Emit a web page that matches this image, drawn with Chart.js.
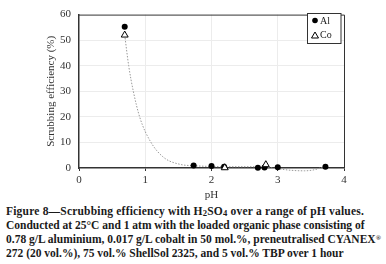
<!DOCTYPE html>
<html><head><meta charset="utf-8">
<script src="https://cdn.jsdelivr.net/npm/chart.js@4"></script>
<style>
html,body{margin:0;padding:0;background:#fff;width:386px;height:264px;overflow:hidden}
#wrap{position:absolute;left:0;top:0;width:386px;height:202px}
#cap{position:absolute;left:6px;top:205px;width:385px;font-family:"Liberation Serif",serif;font-weight:bold;font-size:11.5px;line-height:13.9px;color:#1a1a1a;white-space:nowrap}
#l1{letter-spacing:0.2px}
sub{font-size:0.75em;vertical-align:-0.15em;line-height:0}
sup{font-size:0.6em;vertical-align:0.5em;line-height:0}
</style></head><body>
<div id="wrap"><canvas id="c" width="386" height="202"></canvas></div>
<div id="cap"><span id="l1">Figure 8—Scrubbing efficiency with H<sub>2</sub>SO<sub>4</sub> over a range of pH values.</span><br>Conducted at 25°C and 1 atm with the loaded organic phase consisting of<br>0.78 g/L aluminium, 0.017 g/L cobalt in 50 mol.%, preneutralised CYANEX<sup>®</sup><br>272 (20 vol.%), 75 vol.% ShellSol 2325, and 5 vol.% TBP over 1 hour</div>
<script>
const alPH = [0.69, 1.73, 2.0, 2.19, 2.7, 2.8, 3.0, 3.72];
const alEff = [55.2, 1.0, 0.8, 0.5, 0.1, 0.2, 0.3, 0.5];
const coPH = [0.69, 2.2, 2.82];
const coEff = [52, 0.1, 1.3];
const trendPH = [0.69, 0.75, 0.82, 0.92, 1.08, 1.28, 1.53, 1.73, 2.0, 2.3, 2.6, 2.8, 3.0, 3.2, 3.4, 3.55, 3.7];
const trendEff = [52, 40, 30, 19.6, 10.3, 4.1, 1.4, 0.9, 0.6, 0.5, 0.5, 0.3, -0.3, -0.9, -1.1, -0.7, 0.5];
const xTicks = [0, 1, 2, 3, 4];
const yTicks = [0, 10, 20, 30, 40, 50, 60];

const pts = (xs, ys) => xs.map((x, i) => ({x: x, y: ys[i]}));
const serif = '"Liberation Serif", "Times New Roman", serif';

const legendPlugin = {
  id: 'boxLegend',
  afterDraw(chart) {
    const ctx = chart.ctx;
    const x0 = 307.5, y0 = 13.5, w = 33.5, h = 30;
    ctx.save();
    ctx.fillStyle = '#fff';
    ctx.fillRect(x0, y0, w, h);
    ctx.strokeStyle = '#333';
    ctx.lineWidth = 1;
    ctx.strokeRect(x0, y0, w, h);
    ctx.fillStyle = '#000';
    ctx.beginPath(); ctx.arc(x0 + 7.5, y0 + 7, 2.8, 0, Math.PI * 2); ctx.fill();
    ctx.beginPath();
    ctx.moveTo(x0 + 7.5, y0 + 18.5); ctx.lineTo(x0 + 11, y0 + 24.5); ctx.lineTo(x0 + 4, y0 + 24.5); ctx.closePath();
    ctx.strokeStyle = '#000'; ctx.stroke();
    ctx.font = '10px ' + serif;
    ctx.fillStyle = '#222';
    ctx.textBaseline = 'middle';
    ctx.fillText('Al', x0 + 12.5, y0 + 7.5);
    ctx.fillText('Co', x0 + 12.5, y0 + 22);
    ctx.restore();
  }
};

const frame = {
  id: 'frame',
  afterDatasetsDraw(chart) {
    const a = chart.chartArea, ctx = chart.ctx;
    ctx.save();
    ctx.strokeStyle = '#333'; ctx.lineWidth = 1;
    ctx.beginPath();
    ctx.moveTo(a.left, a.top + 0.5); ctx.lineTo(a.right + 0.5, a.top + 0.5); ctx.lineTo(a.right + 0.5, a.bottom);
    ctx.stroke();
    ctx.restore();
  }
};

new Chart(document.getElementById('c'), {
  type: 'scatter',
  data: {
    datasets: [
      {label: 'Trend', data: pts(trendPH, trendEff), showLine: true, pointRadius: 0, borderColor: '#9a9a9a', borderWidth: 1, borderDash: [1.5, 1.5], tension: 0.4, cubicInterpolationMode: 'monotone', clip: false, order: 3},
      {label: 'Co', data: pts(coPH, coEff), pointStyle: 'triangle', pointRadius: 4, backgroundColor: '#fff', borderColor: '#000', borderWidth: 1, order: 1, clip: false},
      {label: 'Al', data: pts(alPH, alEff), pointStyle: 'circle', pointRadius: 3, backgroundColor: '#000', borderColor: '#000', borderWidth: 0, order: 2, clip: false}
    ]
  },
  options: {
    responsive: false,
    animation: false,
    layout: {padding: {left: 0, top: 6, right: 42, bottom: 0}},
    plugins: {legend: {display: false}, tooltip: {enabled: false}},
    scales: {
      x: {
        type: 'linear', min: 0, max: 4,
        afterBuildTicks: s => { s.ticks = xTicks.map(v => ({value: v})); },
        afterFit: s => { s.height = 34; },
        grid: {color: ctx => (ctx.tick && (ctx.tick.value === 0 || ctx.tick.value === 4)) ? 'rgba(0,0,0,0)' : '#ececec', drawTicks: true, tickLength: 3, tickColor: '#333'},
        border: {color: '#333', width: 1.5},
        ticks: {font: {family: serif, size: 11}, color: '#333', padding: 3, maxRotation: 0},
        title: {display: true, text: 'pH', font: {family: serif, size: 11}, color: '#333', padding: {top: 0, bottom: 0}}
      },
      y: {
        type: 'linear', min: 0, max: 60,
        afterBuildTicks: s => { s.ticks = yTicks.map(v => ({value: v})); },
        afterFit: s => { s.width = 79; },
        grid: {color: ctx => (ctx.tick && (ctx.tick.value === 0 || ctx.tick.value === 60)) ? 'rgba(0,0,0,0)' : '#ececec', drawTicks: false},
        border: {color: '#333', width: 1.5},
        ticks: {font: {family: serif, size: 11}, color: '#333', padding: 8},
        title: {display: true, text: 'Scrubbing efficiency (%)', font: {family: serif, size: 11}, color: '#333', padding: {top: 45, bottom: 0}}
      }
    }
  },
  plugins: [frame, legendPlugin]
});
</script>
</body></html>
